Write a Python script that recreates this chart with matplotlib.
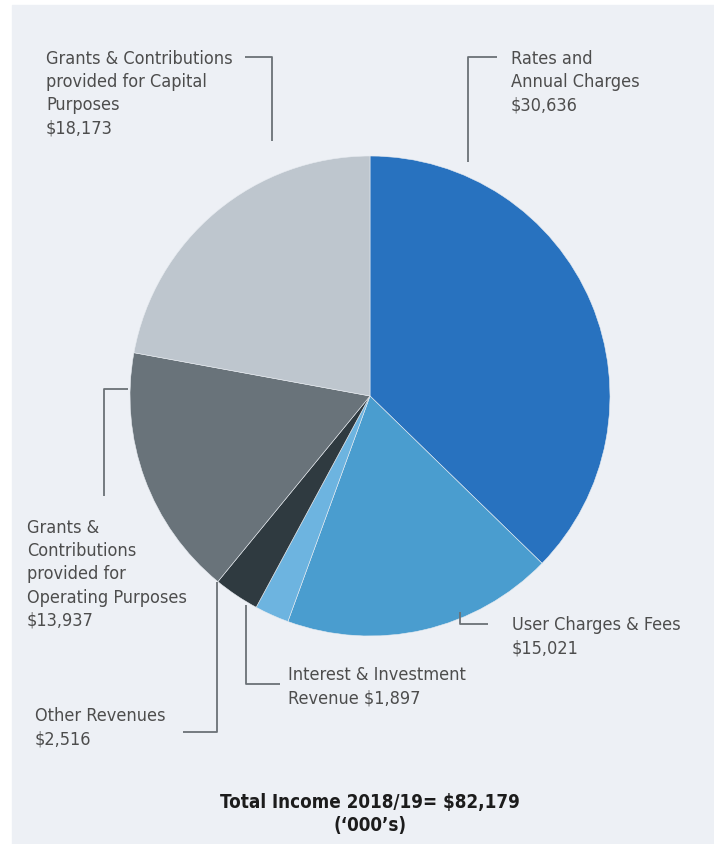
import matplotlib.pyplot as plt
from matplotlib.patches import Rectangle

# income sources, in $'000
categorias = ["Rates and Annual Charges", "User Charges & Fees",
              "Interest & Investment Revenue", "Other Revenues",
              "Grants & Contributions provided for Operating Purposes",
              "Grants & Contributions provided for Capital Purposes"]
valores = [30636, 15021, 1897, 2516, 13937, 18173]
colores = ["#2872bf", "#4a9dcf", "#6db4e0", "#2f3a40", "#69737a", "#bec6ce"]

etiquetas = ["Rates and\nAnnual Charges\n$30,636",
             "User Charges & Fees\n$15,021",
             "Interest & Investment\nRevenue $1,897",
             "Other Revenues\n$2,516",
             "Grants &\nContributions\nprovided for\nOperating Purposes\n$13,937",
             "Grants & Contributions\nprovided for Capital\nPurposes\n$18,173"]
titulo = "Total Income 2018/19= $82,179\n(\u2018000\u2019s)"

ANCHO, ALTO = 714, 845
FONDO = "#edf0f5"
TEXTO = "#4d4d4d"
LINEA = "#6b7176"
FUENTE = ["Liberation Sans Narrow", "DejaVu Sans"]

fig = plt.figure(figsize=(ANCHO / 100, ALTO / 100), dpi=100)
ax = fig.add_axes([0, 0, 1, 1])

ax.add_patch(Rectangle((12, 0), ANCHO - 12, ALTO - 6, color=FONDO, zorder=0))


def y(py):
    # pixel rows counted from the top
    return ALTO - py


ax.pie(valores, colors=colores, startangle=90, counterclock=False,
       center=(370, y(397)), radius=240, frame=True,
       wedgeprops=dict(linewidth=0.4, edgecolor="#e8ecf1"))
ax.set_xlim(0, ANCHO)
ax.set_ylim(0, ALTO)
ax.set_aspect("equal")
ax.axis("off")

# leader lines
guias = [
    ([468, 468, 497], [163, 58, 58]),
    ([460, 460, 488], [613, 625, 625]),
    ([246, 246, 280], [606, 685, 685]),
    ([217, 217, 183], [583, 733, 733]),
    ([104, 104, 128], [497, 390, 390]),
    ([272, 272, 245], [142, 58, 58]),
]
for xs, ys in guias:
    ax.plot(xs, [y(v) for v in ys], color=LINEA, lw=1.3, solid_capstyle="butt")

posiciones = [(511, 50), (512, 616), (288, 666), (35, 707), (27, 519), (46, 50)]
for (px, py), texto in zip(posiciones, etiquetas):
    ax.text(px, y(py), texto, ha="left", va="top", fontsize=13, color=TEXTO,
            family=FUENTE, fontstretch="condensed", linespacing=1.37)

ax.text(370, y(793), titulo, ha="center", va="top", fontsize=13.5,
        fontweight="bold", color="#1c1c1c", family=FUENTE,
        fontstretch="condensed", linespacing=1.3)

fig.savefig("out.png", dpi=100, facecolor="white")
